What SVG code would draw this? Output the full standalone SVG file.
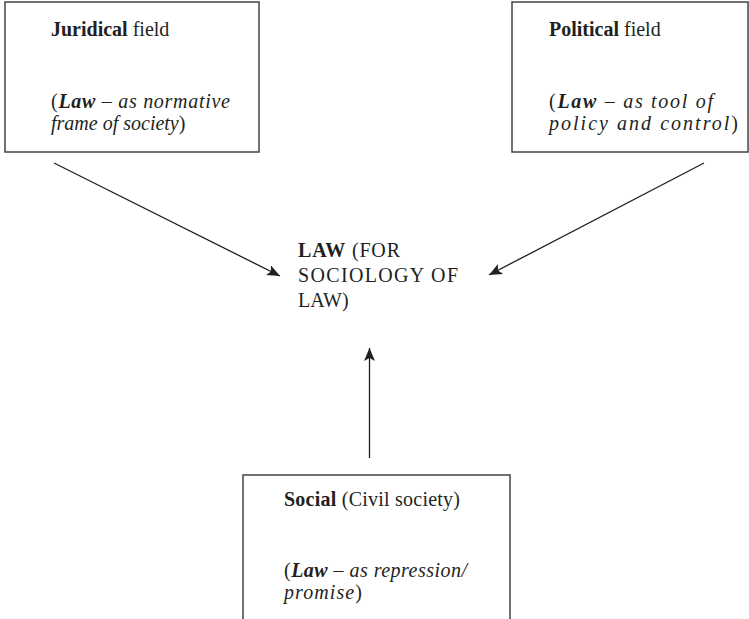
<svg xmlns="http://www.w3.org/2000/svg" width="749" height="619" viewBox="0 0 749 619">
<style>
.box{fill:#fff;stroke:#444;stroke-width:1.5}
text{font-family:'Liberation Serif','DejaVu Serif','Times New Roman',serif;font-size:20px;fill:#231f20}
.b{font-weight:bold}
.i{font-style:italic}
.c{fill:none;stroke:#231f20;stroke-width:1.3}
</style>
<defs>
<marker id="ah" markerUnits="userSpaceOnUse" markerWidth="14" markerHeight="12" refX="13" refY="5.5" orient="auto">
<path d="M0,0 L13,5.5 L0,11 L3,5.5 z" fill="#231f20"/>
</marker>
</defs>
<rect width="749" height="619" fill="#fff"/>
<g id="juridical">
<rect class="box" x="5" y="2" width="254" height="150"/>
<text x="51" y="36"><tspan class="b">Juridical</tspan> field</text>
<text x="51" y="108" textLength="179" lengthAdjust="spacing">(<tspan class="b i">Law</tspan><tspan class="i"> – as normative</tspan></text>
<text x="51" y="130"><tspan class="i">frame of society</tspan>)</text>
</g>
<g id="political">
<rect class="box" x="512" y="2" width="236" height="150"/>
<text x="549" y="36"><tspan class="b">Political</tspan> field</text>
<text x="549" y="108" textLength="164" lengthAdjust="spacing">(<tspan class="b i">Law</tspan><tspan class="i"> – as tool of</tspan></text>
<text x="549" y="130" textLength="189" lengthAdjust="spacing"><tspan class="i">policy and control</tspan>)</text>
</g>
<g id="law">
<text x="298" y="257" textLength="102" lengthAdjust="spacing"><tspan class="b">LAW</tspan> (FOR</text>
<text x="298" y="282" textLength="160" lengthAdjust="spacing">SOCIOLOGY OF</text>
<text x="298" y="307">LAW)</text>
</g>
<g id="social">
<rect class="box" x="243" y="475" width="267" height="150"/>
<text x="284" y="506" textLength="176" lengthAdjust="spacing"><tspan class="b">Social</tspan> (Civil society)</text>
<text x="284" y="577" textLength="183" lengthAdjust="spacing">(<tspan class="b i">Law</tspan><tspan class="i"> – as repression/</tspan></text>
<text x="284" y="599" textLength="78" lengthAdjust="spacing"><tspan class="i">promise</tspan>)</text>
</g>
<g id="connectors">
<line class="c" x1="54" y1="163" x2="280" y2="276" marker-end="url(#ah)"/>
<line class="c" x1="704" y1="163" x2="489" y2="275" marker-end="url(#ah)"/>
<line class="c" x1="369.5" y1="458" x2="369.5" y2="348" marker-end="url(#ah)"/>
</g>
</svg>
